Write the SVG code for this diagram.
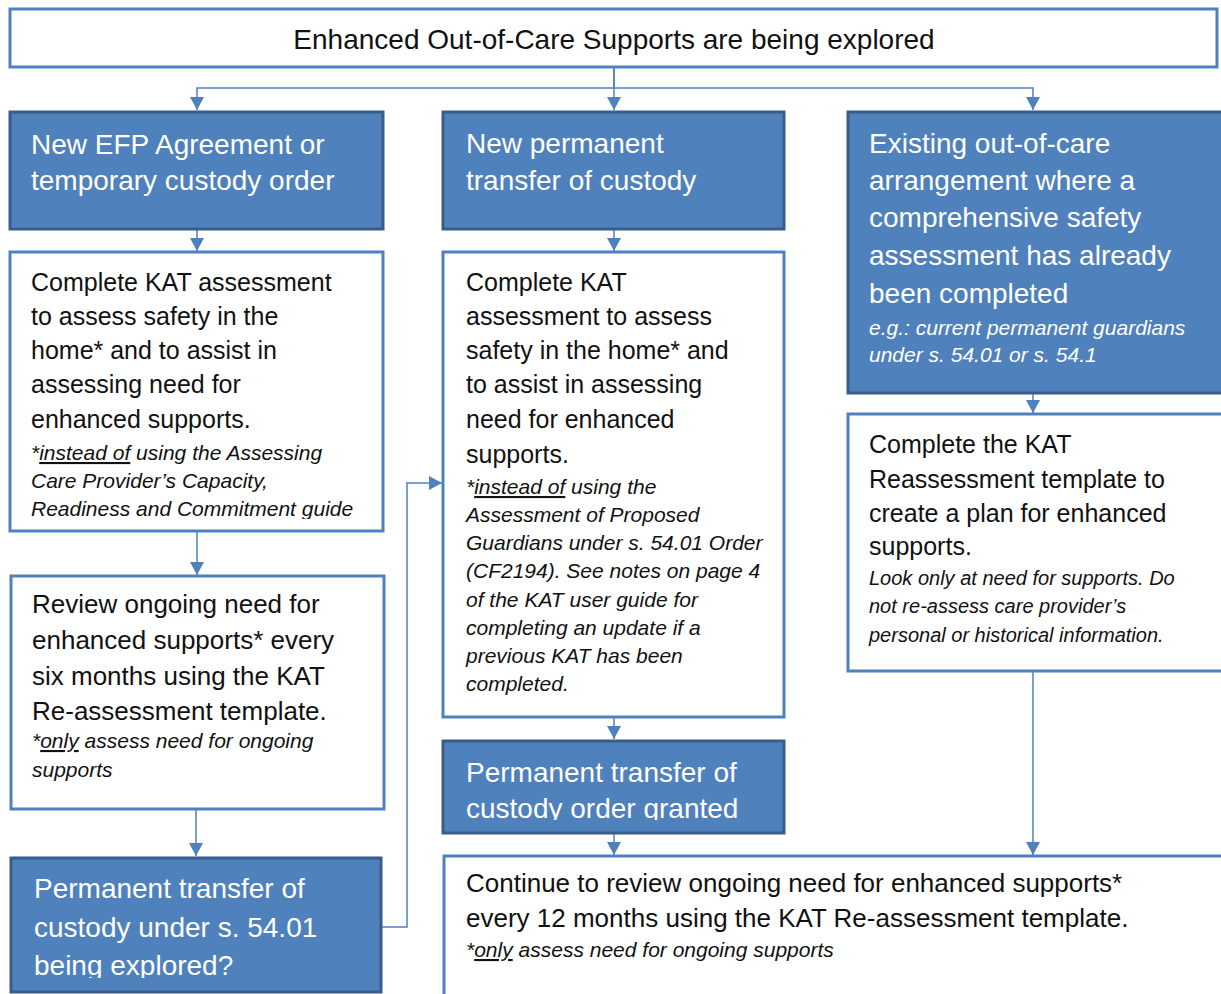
<svg xmlns="http://www.w3.org/2000/svg" width="1221" height="994" viewBox="0 0 1221 994">
<style>
text{font-family:"Liberation Sans",Arial,sans-serif}
.dark{fill:#4f81bd;stroke:#385d8a;stroke-width:3}
.light{fill:#ffffff;stroke:#4f81bd;stroke-width:3}
.hdr{font-size:28px;fill:#111}
.ttl{font-size:28px;fill:#ffffff}
.b{font-size:25px;fill:#111}
.b26{font-size:26px;fill:#111}
.i{font-size:21px;font-style:italic;fill:#111}
.iw{font-size:21px;font-style:italic;fill:#ffffff}
.i20{font-size:20px;font-style:italic;fill:#111}
.u{text-decoration:underline}
.conn path{fill:none;stroke:#4f81bd;stroke-width:1.5}
</style>
<defs>
<marker id="ah" markerUnits="userSpaceOnUse" markerWidth="13" markerHeight="14" refX="13" refY="7" orient="auto">
<path d="M0,0 L13,7 L0,14 z" fill="#4f81bd"/>
</marker>
<clipPath id="c1b"><rect x="0" y="250" width="400" height="269"/></clipPath>
<clipPath id="c1d"><rect x="0" y="855" width="400" height="123"/></clipPath>
<clipPath id="c2c"><rect x="440" y="738" width="350" height="82"/></clipPath>
</defs>
<rect width="1221" height="994" fill="#ffffff"/>

<g id="connectors" class="conn">
<path d="M614,67 V88 H197 V110" marker-end="url(#ah)"/>
<path d="M614,67 V110" marker-end="url(#ah)"/>
<path d="M614,88 H1033 V110" marker-end="url(#ah)"/>
<path d="M197,230 V251" marker-end="url(#ah)"/>
<path d="M614,230 V251" marker-end="url(#ah)"/>
<path d="M1033,393 V413" marker-end="url(#ah)"/>
<path d="M197,532 V575" marker-end="url(#ah)"/>
<path d="M196,809 V856" marker-end="url(#ah)"/>
<path d="M382,927 H407 V483 H442" marker-end="url(#ah)"/>
<path d="M614,717 V739" marker-end="url(#ah)"/>
<path d="M614,833 V855" marker-end="url(#ah)"/>
<path d="M1033,671 V855" marker-end="url(#ah)"/>
</g>

<g id="header">
<rect class="light" x="10" y="9" width="1207" height="58"/>
<text class="hdr" x="614" y="49" text-anchor="middle">Enhanced Out-of-Care Supports are being explored</text>
</g>

<g id="new-efp">
<rect class="dark" x="10" y="112" width="373" height="117"/>
<text class="ttl" x="31" y="154">New EFP Agreement or</text>
<text class="ttl" x="31" y="190">temporary custody order</text>
</g>

<g id="new-permanent">
<rect class="dark" x="443" y="112" width="341" height="117"/>
<text class="ttl" x="466" y="153">New permanent</text>
<text class="ttl" x="466" y="190">transfer of custody</text>
</g>

<g id="existing">
<rect class="dark" x="848" y="112" width="380" height="281"/>
<text class="ttl" x="869" y="153">Existing out-of-care</text>
<text class="ttl" x="869" y="190">arrangement where a</text>
<text class="ttl" x="869" y="227">comprehensive safety</text>
<text class="ttl" x="869" y="265">assessment has already</text>
<text class="ttl" x="869" y="303">been completed</text>
<text class="iw" x="869" y="335">e.g.: current permanent guardians</text>
<text class="iw" x="869" y="362">under s. 54.01 or s. 54.1</text>
</g>

<g id="kat-efp">
<rect class="light" x="10" y="252" width="373" height="279"/>
<g clip-path="url(#c1b)">
<text class="b" x="31" y="291">Complete KAT assessment</text>
<text class="b" x="31" y="325">to assess safety in the</text>
<text class="b" x="31" y="359">home* and to assist in</text>
<text class="b" x="31" y="393">assessing need for</text>
<text class="b" x="31" y="428">enhanced supports.</text>
<text class="i" x="31" y="460">*<tspan class="u">instead of</tspan> using the Assessing</text>
<text class="i" x="31" y="488">Care Provider’s Capacity,</text>
<text class="i" x="31" y="516">Readiness and Commitment guide</text>
</g>
</g>

<g id="review-six">
<rect class="light" x="11" y="576" width="373" height="233"/>
<text class="b26" x="32" y="613">Review ongoing need for</text>
<text class="b26" x="32" y="649">enhanced supports* every</text>
<text class="b26" x="32" y="685">six months using the KAT</text>
<text class="b26" x="32" y="720">Re-assessment template.</text>
<text class="i" x="32" y="748">*<tspan class="u">only</tspan> assess need for ongoing</text>
<text class="i" x="32" y="777">supports</text>
</g>

<g id="ptc-explored">
<rect class="dark" x="11" y="858" width="370" height="134"/>
<g clip-path="url(#c1d)">
<text class="ttl" x="34" y="898">Permanent transfer of</text>
<text class="ttl" x="34" y="937">custody under s. 54.01</text>
<text class="ttl" x="34" y="975">being explored?</text>
</g>
</g>

<g id="kat-permanent">
<rect class="light" x="443" y="252" width="341" height="465"/>
<text class="b" x="466" y="291">Complete KAT</text>
<text class="b" x="466" y="325">assessment to assess</text>
<text class="b" x="466" y="359">safety in the home* and</text>
<text class="b" x="466" y="393">to assist in assessing</text>
<text class="b" x="466" y="428">need for enhanced</text>
<text class="b" x="466" y="463">supports.</text>
<text class="i" x="466" y="494">*<tspan class="u">instead of</tspan> using the</text>
<text class="i" x="466" y="522">Assessment of Proposed</text>
<text class="i" x="466" y="550">Guardians under s. 54.01 Order</text>
<text class="i" x="466" y="578">(CF2194). See notes on page 4</text>
<text class="i" x="466" y="607">of the KAT user guide for</text>
<text class="i" x="466" y="635">completing an update if a</text>
<text class="i" x="466" y="663">previous KAT has been</text>
<text class="i" x="466" y="691">completed.</text>
</g>

<g id="ptc-granted">
<rect class="dark" x="443" y="741" width="341" height="92"/>
<g clip-path="url(#c2c)">
<text class="ttl" x="466" y="782">Permanent transfer of</text>
<text class="ttl" x="466" y="818">custody order granted</text>
</g>
</g>

<g id="kat-reassess">
<rect class="light" x="848" y="414" width="380" height="257"/>
<text class="b" x="869" y="453">Complete the KAT</text>
<text class="b" x="869" y="488">Reassessment template to</text>
<text class="b" x="869" y="522">create a plan for enhanced</text>
<text class="b" x="869" y="555">supports.</text>
<text class="i20" x="869" y="585">Look only at need for supports. Do</text>
<text class="i20" x="869" y="613">not re-assess care provider’s</text>
<text class="i20" x="869" y="642">personal or historical information.</text>
</g>

<g id="continue-review">
<rect class="light" x="444" y="856" width="784" height="150"/>
<text class="b26" x="466" y="892">Continue to review ongoing need for enhanced supports*</text>
<text class="b26" x="466" y="927">every 12 months using the KAT Re-assessment template.</text>
<text class="i" x="466" y="957">*<tspan class="u">only</tspan> assess need for ongoing supports</text>
</g>
</svg>
